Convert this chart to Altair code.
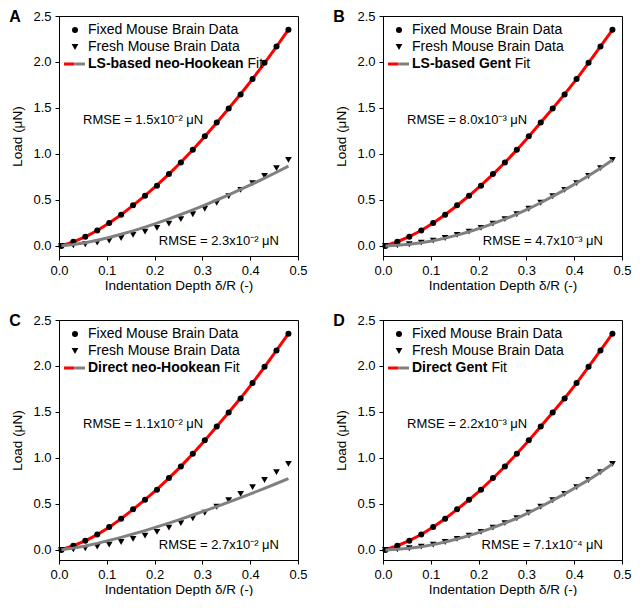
import altair as alt
import pandas as pd

# ---------------- data ----------------
depth = [0.005, 0.030, 0.055, 0.080, 0.105, 0.130, 0.155, 0.180, 0.205, 0.230,
         0.255, 0.280, 0.305, 0.330, 0.355, 0.380, 0.405, 0.430, 0.455, 0.480]

fixed_load = [0.000, 0.046, 0.100, 0.167, 0.249, 0.338, 0.441, 0.544, 0.654, 0.782,
              0.907, 1.046, 1.191, 1.341, 1.494, 1.647, 1.814, 1.991, 2.169, 2.351]
fresh_load = [0.000, 0.006, 0.018, 0.036, 0.058, 0.086, 0.119, 0.155, 0.196, 0.243,
              0.292, 0.344, 0.404, 0.469, 0.540, 0.609, 0.683, 0.760, 0.845, 0.935]

fit_fixed_A = [0.001, 0.044, 0.099, 0.167, 0.248, 0.339, 0.440, 0.547, 0.660, 0.781,
               0.909, 1.045, 1.189, 1.340, 1.495, 1.652, 1.815, 1.988, 2.168, 2.352]
fit_fresh_A = [0.001, 0.015, 0.035, 0.062, 0.092, 0.126, 0.163, 0.204, 0.247, 0.293,
               0.341, 0.391, 0.444, 0.499, 0.555, 0.614, 0.674, 0.737, 0.801, 0.867]

fit_fixed_B = [0.001, 0.045, 0.100, 0.167, 0.248, 0.339, 0.439, 0.545, 0.657, 0.778,
               0.906, 1.044, 1.190, 1.341, 1.494, 1.650, 1.814, 1.990, 2.170, 2.350]
fit_fresh_B = [0.000, 0.006, 0.017, 0.034, 0.056, 0.084, 0.117, 0.154, 0.196, 0.242,
               0.292, 0.345, 0.404, 0.469, 0.538, 0.609, 0.684, 0.762, 0.845, 0.934]

fit_fixed_C = [0.001, 0.045, 0.099, 0.166, 0.247, 0.339, 0.440, 0.547, 0.659, 0.780,
               0.908, 1.045, 1.190, 1.341, 1.495, 1.651, 1.815, 1.989, 2.169, 2.351]
fit_fresh_C = [0.002, 0.019, 0.043, 0.071, 0.103, 0.136, 0.172, 0.210, 0.250, 0.291,
               0.334, 0.379, 0.424, 0.471, 0.519, 0.568, 0.618, 0.669, 0.722, 0.775]

fit_fixed_D = [0.001, 0.045, 0.100, 0.167, 0.249, 0.339, 0.440, 0.545, 0.656, 0.779,
               0.907, 1.045, 1.190, 1.341, 1.494, 1.649, 1.814, 1.990, 2.170, 2.351]
fit_fresh_D = [0.000, 0.006, 0.018, 0.035, 0.057, 0.085, 0.118, 0.155, 0.196, 0.243,
               0.292, 0.344, 0.404, 0.469, 0.539, 0.609, 0.683, 0.761, 0.845, 0.935]

panel_letters = ["A", "B", "C", "D"]
model_names = ["LS-based neo-Hookean", "LS-based Gent", "Direct neo-Hookean", "Direct Gent"]
rmse_fixed = ["1.5x10⁻²", "8.0x10⁻³", "1.1x10⁻²", "2.2x10⁻³"]
rmse_fresh = ["2.3x10⁻²", "4.7x10⁻³", "2.7x10⁻²", "7.1x10⁻⁴"]
fits_fixed = [fit_fixed_A, fit_fixed_B, fit_fixed_C, fit_fixed_D]
fits_fresh = [fit_fresh_A, fit_fresh_B, fit_fresh_C, fit_fresh_D]

x_ticks = [0.0, 0.1, 0.2, 0.3, 0.4, 0.5]
y_ticks = [0.0, 0.5, 1.0, 1.5, 2.0, 2.5]

# ---------------- styling / layout ----------------
FONT = "Liberation Sans"
W, H = 239, 240
RED = "#ff0000"
GRAY = "#808080"
# width of the bold model name (+ a space) at 14px, so "Fit" follows it
bold_widths = [159.5, 102.7, 136.1, 79.4]

xscale = alt.Scale(domain=[0, 0.5], nice=False, zero=False)
yscale = alt.Scale(domain=[-0.11, 2.5], nice=False, zero=False)
xaxis = alt.Axis(values=x_ticks, format=".1f", title="Indentation Depth δ/R (-)",
                 labelPadding=4, titlePadding=1, labelFlush=False)
yaxis = alt.Axis(values=y_ticks, format=".1f", title="Load (μN)",
                 labelPadding=4, titlePadding=8, labelFlush=False)

one = pd.DataFrame({"k": [0]})


def txt(text, x, y, size=14, weight="normal", align="left"):
    return alt.Chart(one).mark_text(
        text=text, font=FONT, fontSize=size, fontWeight=weight, align=align,
        baseline="middle", color="black"
    ).encode(x=alt.value(x), y=alt.value(y))


def panel(i):
    df = pd.DataFrame({
        "depth": depth,
        "fixed": fixed_load,
        "fresh": fresh_load,
        "fit_fixed": fits_fixed[i],
        "fit_fresh": fits_fresh[i],
    })
    base = alt.Chart(df)
    X = alt.X("depth:Q", scale=xscale, axis=xaxis)

    def Y(f):
        return alt.Y(f + ":Q", scale=yscale, axis=yaxis)

    red_line = base.mark_line(color=RED, strokeWidth=3).encode(x=X, y=Y("fit_fixed"))
    circles = base.mark_point(shape="circle", filled=True, color="black", size=36,
                              opacity=1).encode(x=X, y=Y("fixed"))
    tris = base.mark_point(shape="triangle-down", filled=True, color="black", size=45,
                           opacity=1).encode(x=X, y=Y("fresh"))
    gray_line = base.mark_line(color=GRAY, strokeWidth=3).encode(x=X, y=Y("fit_fresh"))

    # legend
    r1, r2, r3 = 14, 31, 48
    leg_c = alt.Chart(one).mark_point(shape="circle", filled=True, color="black",
                                      size=36, opacity=1).encode(x=alt.value(16), y=alt.value(r1))
    leg_t = alt.Chart(one).mark_point(shape="triangle-down", filled=True, color="black",
                                      size=45, opacity=1).encode(x=alt.value(16), y=alt.value(r2))
    leg_r = alt.Chart(one).mark_rule(color=RED, strokeWidth=3).encode(
        x=alt.value(5), x2=alt.value(15.5), y=alt.value(r3))
    leg_g = alt.Chart(one).mark_rule(color=GRAY, strokeWidth=3).encode(
        x=alt.value(15.5), x2=alt.value(26), y=alt.value(r3))
    t1 = txt("Fixed Mouse Brain Data", 29, r1)
    t2 = txt("Fresh Mouse Brain Data", 29, r2)
    t3a = txt(model_names[i], 29, r3, weight="bold")
    t3b = txt("Fit", 29 + bold_widths[i], r3)

    rm1 = txt("RMSE = " + rmse_fixed[i] + " μN", 24, 104, size=13)
    rm2 = txt("RMSE = " + rmse_fresh[i] + " μN", W - 19, H - 15, size=13, align="right")
    letter = txt(panel_letters[i], -44, 1, size=16, weight="bold", align="center")

    return alt.layer(
        red_line, circles, tris, gray_line,
        leg_c, leg_t, leg_r, leg_g, t1, t2, t3a, t3b, rm1, rm2, letter
    ).properties(width=W, height=H)


chart = alt.concat(
    *[panel(i) for i in range(4)], columns=2,
    spacing={"row": 20, "column": 24}
).properties(padding=0).configure(font=FONT).configure_view(
    stroke="black", strokeWidth=1
).configure_axis(
    grid=False, labelFont=FONT, titleFont=FONT, labelFontSize=13, titleFontSize=13.5,
    titleFontWeight="normal", labelColor="black", titleColor="black",
    tickColor="black", domainColor="black", tickSize=4, domainWidth=1, tickWidth=1
)

chart.save("out.html", embed_options={"renderer": "svg", "actions": False})
